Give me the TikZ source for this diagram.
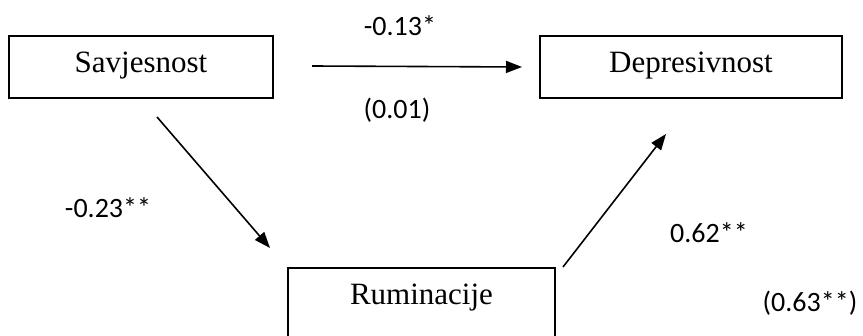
\documentclass[tikz,border=0pt]{standalone}
\usepackage{fontspec}
\setmainfont{Liberation Serif}
\newfontfamily\labelfont{Carlito}
\usetikzlibrary{arrows.meta}

\tikzset{
	var/.style={shape=rectangle,draw=black,line width=1pt,inner sep=0pt,
		text height=18.5pt,text depth=12.5pt,anchor=base,
		font=\fontsize{15.5}{18}\selectfont},
	coef/.style={font=\labelfont\fontsize{14}{16}\selectfont},
	path/.style={line width=0.8pt,-{Triangle[length=8pt,width=6pt]}}
}

\begin{document}
\begin{tikzpicture}[x=0.5pt,y=-0.5pt]
	
	\clip (0,0) rectangle (863,336);
	\fill[white] (0,0) rectangle (863,336);
	
	\node[var,minimum width=132pt] (sav) at (141,73)     {Savjesnost};
	\node[var,minimum width=151pt] (dep) at (691,73)     {Depresivnost};
	\node[var,minimum width=133.5pt,text depth=40pt] (rum) at (421.5,305) {Ruminacije};
	
	\coordinate (c1) at (312,66);
	\coordinate (c2) at (522,67);
	\coordinate (a1) at (157,117);
	\coordinate (a2) at (270,248);
	\coordinate (b1) at (563,267);
	\coordinate (b2) at (666,134);
	
	\draw[path] (c1) -- (c2);
	\draw[path] (a1) -- (a2);
	\draw[path] (b1) -- (b2);
	
	\node[coef] (ct) at (400,26)  {-0.13*};
	\node[coef] (cb) at (397,110) {(0.01)};
	\node[coef] (ca) at (108,208) {-0.23**};
	\node[coef] (cr) at (709,233) {0.62**};
	\node[coef] (cs) at (810,303) {(0.63**)};
	
\end{tikzpicture}
\end{document}
